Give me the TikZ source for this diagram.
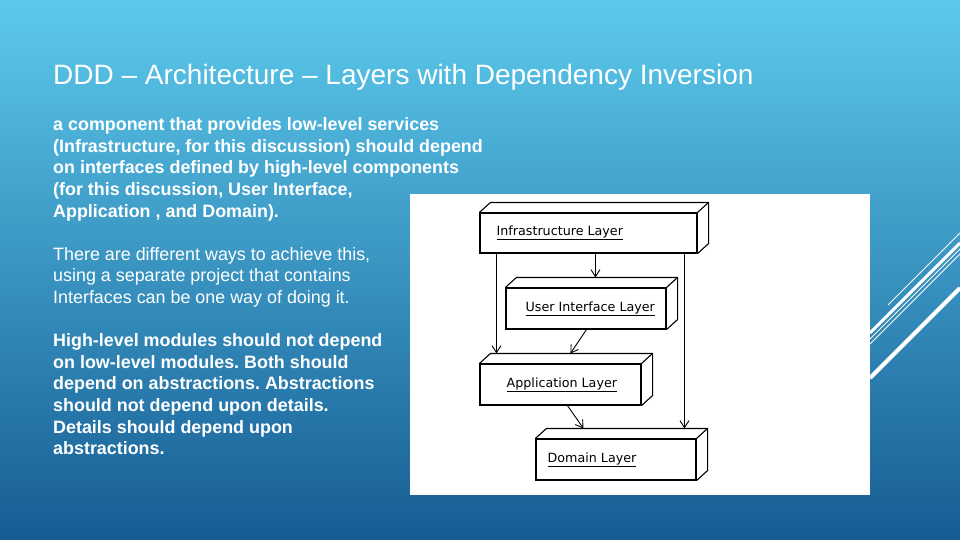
\documentclass[tikz,border=0pt]{standalone}
\usepackage{fontspec}
\setmainfont{Liberation Sans}
\newfontfamily\layerfont{DejaVu Sans}
\usetikzlibrary{arrows.meta}
\frenchspacing

\definecolor{bgtop}{RGB}{92,202,236}
\definecolor{bgbottom}{RGB}{22,92,148}

\tikzset{
  layer/.style={draw, line width=1.1pt, fill=white, inner sep=0pt},
  layertext/.style={font=\layerfont\fontsize{12.7}{14}\selectfont, inner sep=0pt, anchor=west},
  dep/.style={line width=0.9pt, -{Straight Barb[length=7pt, width=9pt]}},
  para/.style={white, align=left, inner sep=0pt, anchor=north west},
  stripe/.style={white, line cap=butt}
}

\begin{document}
\begin{tikzpicture}[x=1pt, y=-1pt]
  \useasboundingbox (0,0) rectangle (960,540);
  \shade[top color=bgtop, bottom color=bgbottom] (0,0) rectangle (960,540);

  % stripes on the right
  \draw[stripe, line width=0.8pt] (888,305) -- (960,233);
  \draw[stripe, line width=3pt] (870,333) -- (960,243);
  \draw[stripe, line width=0.8pt] (870,339) -- (960,249);
  \draw[stripe, line width=0.8pt] (870,344) -- (960,254);
  \draw[stripe, line width=4pt] (870,378) -- (960,288);

  % title and text
  \node[white, font=\fontsize{28}{32}\selectfont, inner sep=0pt, anchor=base west] (title) at (53,85)
    {DDD -- Architecture -- Layers with Dependency Inversion};

  \node[para, font=\bfseries\fontsize{17.9}{21.6}\selectfont] (intro) at (53,117.5)
    {a component that provides low-level services\\
     (Infrastructure, for this discussion) should depend\\
     on interfaces defined by high-level components\\
     (for this discussion, User Interface,\\
     Application , and Domain).};

  \node[para, font=\fontsize{17.9}{21.6}\selectfont] (ways) at (53,247)
    {There are different ways to achieve this,\\
     using a separate project that contains\\
     Interfaces can be one way of doing it.};

  \node[para, font=\bfseries\fontsize{17.9}{21.6}\selectfont] (rule) at (53,333.5)
    {High-level modules should not depend\\
     on low-level modules. Both should\\
     depend on abstractions. Abstractions\\
     should not depend upon details.\\
     Details should depend upon\\
     abstractions.};

  % diagram
  \fill[white] (410,194) rectangle (870,495);

  \node[layer, minimum width=217pt, minimum height=40pt] (infra) at (588.5,233) {};
  \node[layer, minimum width=160pt, minimum height=41pt] (ui) at (586,308.5) {};
  \node[layer, minimum width=161pt, minimum height=41pt] (app) at (560.5,384.5) {};
  \node[layer, minimum width=160pt, minimum height=41pt] (domain) at (616,459.5) {};

  \foreach \b in {infra, ui, app, domain} {
    \draw[line width=1.1pt, line join=miter] (\b.north west) -- ++(11,-10)
      -| ([shift={(11,-10)}]\b.south east) -- (\b.south east);
    \draw[line width=1.1pt] (\b.north east) -- ++(11,-10);
  }

  \node[layertext] (infratext) at ([xshift=17pt]infra.west) {\underline{Infrastructure Layer}};
  \node[layertext] (uitext) at ([xshift=20pt]ui.west) {\underline{User Interface Layer}};
  \node[layertext] (apptext) at ([xshift=27pt]app.west) {\underline{Application Layer}};
  \node[layertext] (domaintext) at ([xshift=12pt]domain.west) {\underline{Domain Layer}};

  \coordinate (uitop) at ([yshift=10pt]ui.north);
  \coordinate (apptop) at ([yshift=10pt]app.north);
  \coordinate (domaintop) at ([yshift=10pt]domain.north);

  \draw[dep] ([xshift=116pt]infra.south west) -- ([xshift=116pt]infra.south west |- uitop);
  \draw[dep] ([xshift=17pt]infra.south west) -- ([xshift=17pt]infra.south west |- apptop);
  \draw[dep] ([xshift=205pt]infra.south west) -- ([xshift=205pt]infra.south west |- domaintop);
  \draw[dep] ([xshift=81pt]ui.south west) -- ([xshift=91pt,yshift=10pt]app.north west);
  \draw[dep] ([xshift=88pt]app.south west) -- ([xshift=48pt,yshift=10pt]domain.north west);
\end{tikzpicture}
\end{document}
